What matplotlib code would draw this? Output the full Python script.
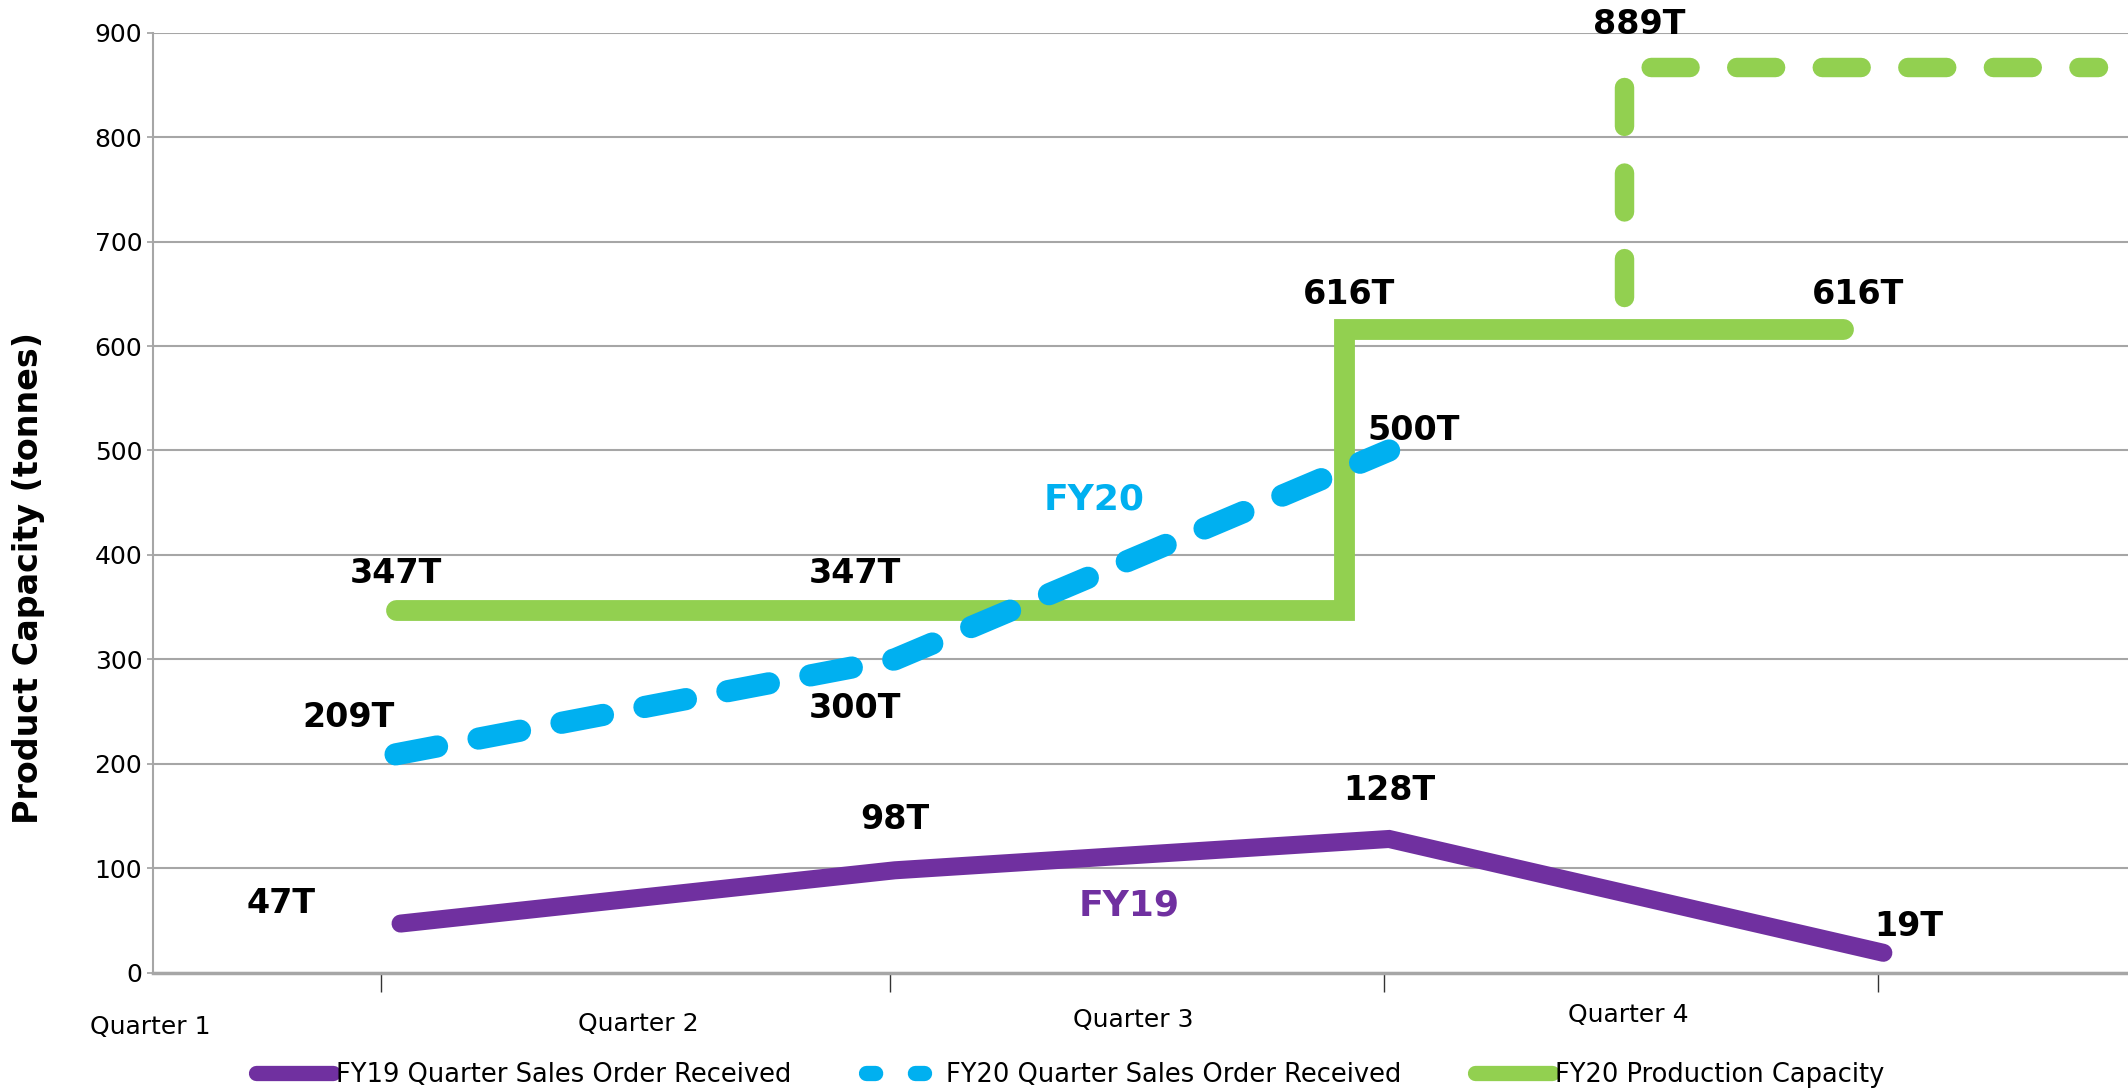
import matplotlib.pyplot as plt
from matplotlib.lines import Line2D

# data
quarters = ['Quarter 1', 'Quarter 2', 'Quarter 3', 'Quarter 4']

fy19_x = [1.04, 2.03, 3.02, 4.01]
fy19_y = [47, 98, 128, 19]
fy19_labels = ['47T', '98T', '128T', '19T']

fy20_x = [1.03, 2.03, 3.02]
fy20_y = [209, 300, 500]
fy20_labels = ['209T', '300T', '500T']

cap_x = [1.03, 2.93, 2.93, 3.93]
cap_y = [347, 347, 616, 616]
cap_labels = ['347T', '347T', '616T', '616T']

plan_x = [3.49, 3.49, 4.44]
plan_y = [647, 867, 867]
plan_label = '889T'

purple = '#7030A0'
blue = '#00B0F0'
green = '#92D050'

fig = plt.figure(figsize=(21.28, 10.92), dpi=100)
ax = fig.add_axes([0.0721, 0.1093, 0.9279, 0.8607])

ax.plot(cap_x, cap_y, color=green, lw=15, solid_capstyle='round',
        solid_joinstyle='miter', zorder=2)
ax.plot(plan_x, plan_y, color=green, lw=14, dashes=(2.0, 2.4),
        dash_capstyle='round', zorder=2)
ax.plot(fy20_x, fy20_y, color=blue, lw=16, dashes=(1.9, 1.9),
        dash_capstyle='round', zorder=3)
ax.plot(fy19_x, fy19_y, color=purple, lw=13, solid_capstyle='round',
        solid_joinstyle='miter', zorder=3)

# value labels
lab = dict(fontsize=24, fontweight='bold', ha='center', va='center',
           clip_on=False, zorder=5)
for x, y, t in zip([0.80, 2.03, 3.02, 4.06], [66, 147, 174, 44], fy19_labels):
    ax.text(x, y, t, **lab)
for x, y, t in zip([0.935, 1.95, 3.07], [244, 253, 519], fy20_labels):
    ax.text(x, y, t, **lab)
for x, y, t in zip([1.03, 1.95, 2.94, 3.96], [382, 382, 649, 649], cap_labels):
    ax.text(x, y, t, **lab)
ax.text(3.52, 908, plan_label, **lab)

ax.text(2.43, 453, 'FY20', color=blue, fontsize=26, fontweight='bold',
        ha='center', va='center')
ax.text(2.50, 64, 'FY19', color=purple, fontsize=26, fontweight='bold',
        ha='center', va='center')

# quarter labels sit between the ticks, drifting up a bit
for x, y, q in zip([0.538, 1.516, 2.508, 3.50], [-52, -49, -45, -41], quarters):
    ax.text(x, y, q, fontsize=18, ha='center', va='center', clip_on=False)

ax.set_xlim(0.545, 4.50)
ax.set_ylim(0, 900)
ax.set_yticks(range(0, 1000, 100))
ax.set_xticks([1, 2.02, 3.01, 4.0])
ax.set_xticklabels([])
ax.tick_params(axis='x', direction='out', length=14, width=1, color='#333333')
ax.tick_params(axis='y', direction='out', length=4, width=1.2, color='#A0A0A0',
               labelsize=18, pad=4)
ax.grid(axis='y', color='#A6A6A6', lw=1.5)
ax.set_axisbelow(True)
for s in ['top', 'right']:
    ax.spines[s].set_visible(False)
ax.spines['left'].set_color('#A6A6A6')
ax.spines['left'].set_linewidth(1.5)
ax.spines['bottom'].set_color('#A6A6A6')
ax.spines['bottom'].set_linewidth(2.5)

ax.set_ylabel('Product Capacity (tonnes)', fontsize=24, fontweight='bold')
ax.yaxis.set_label_coords(-0.055, 0.42)

handles = [
    Line2D([], [], color=purple, lw=11, solid_capstyle='round'),
    Line2D([], [], color=blue, lw=11, dashes=(0.6, 2.6), dash_capstyle='round'),
    Line2D([], [], color=green, lw=11, solid_capstyle='round'),
]
names = ['FY19 Quarter Sales Order Received',
         'FY20 Quarter Sales Order Received',
         'FY20 Production Capacity']
fig.legend(handles, names, loc='center', bbox_to_anchor=(0.503, 0.016),
           ncol=3, frameon=False, fontsize=18.5, handlelength=3.0,
           handletextpad=0.1, columnspacing=2.9)

fig.savefig('out.png', dpi=100)
